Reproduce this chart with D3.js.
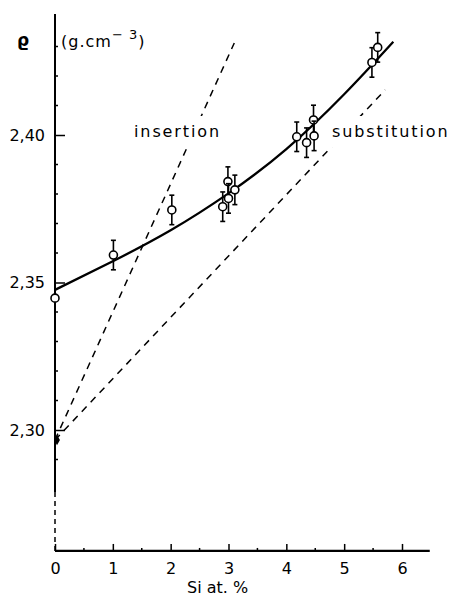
<!DOCTYPE html>
<html>
<head>
<meta charset="utf-8">
<script src="https://cdn.jsdelivr.net/npm/d3@7"></script>
<style>
  body { margin: 0; background: #fff; }
  svg { display: block; }
  text { font-family: "DejaVu Sans", sans-serif; fill: #000; }
</style>
</head>
<body>
<svg id="chart" width="454" height="597"></svg>
<script>
// values
var tickX = [0, 1, 2, 3, 4, 5, 6],
    minorX = [0.5, 1.5, 2.5, 3.5, 4.5, 5.5],
    tickY = [2.30, 2.35, 2.40],
    minorY = [2.29, 2.31, 2.32, 2.33, 2.34, 2.36, 2.37, 2.38, 2.39, 2.41, 2.42, 2.43];

var siPct   = [0, 1.01, 2.02, 2.90, 2.99, 3.00, 3.11, 4.18, 4.35, 4.47, 4.48, 5.48, 5.58],
    density = [2.3447, 2.3593, 2.3746, 2.3757, 2.3842, 2.3785, 2.3814, 2.3994, 2.3974, 2.4051, 2.3997, 2.4246, 2.4297],
    errBar  = [0, 0.005, 0.005, 0.005, 0.005, 0.005, 0.005, 0.005, 0.005, 0.005, 0.005, 0.005, 0.005];

var fitX = [0, 1, 2, 3, 4, 5, 5.85],
    fitY = [2.3475, 2.3572, 2.3677, 2.3802, 2.3952, 2.4138, 2.4316];

var insX = [0, 3.1],
    insY = [2.2966, 2.4312],
    subX = [0, 5.71],
    subY = [2.2966, 2.4153];

var svg = d3.select("#chart");

var x = d3.scaleLinear().domain([0, 6]).range([55, 402]),
    y = d3.scaleLinear().domain([2.30, 2.40]).range([430, 135]);

var line = d3.line()
    .x(function(d) { return x(d[0]); })
    .y(function(d) { return y(d[1]); });

// axes lines
svg.append("line")
    .attr("x1", x(0)).attr("x2", x(6.48))
    .attr("y1", y(2.259)).attr("y2", y(2.259))
    .attr("stroke", "#000").attr("stroke-width", 2.2);

svg.append("line")
    .attr("x1", x(0)).attr("x2", x(0))
    .attr("y1", y(2.279)).attr("y2", y(2.441))
    .attr("stroke", "#000").attr("stroke-width", 2);

svg.append("line")
    .attr("x1", x(0)).attr("x2", x(0))
    .attr("y1", y(2.259)).attr("y2", y(2.279))
    .attr("stroke", "#000").attr("stroke-width", 1.5)
    .attr("stroke-dasharray", "5,4");

// x axis ticks + labels
var gx = svg.append("g")
    .attr("transform", "translate(0," + y(2.259) + ")")
    .call(d3.axisBottom(x).tickValues(tickX).tickSize(-7).tickPadding(12).tickFormat(d3.format("d")));
gx.select(".domain").remove();
gx.selectAll("line").attr("stroke-width", 1.5);
gx.selectAll("text").style("font-size", "16px").style("font-family", "DejaVu Sans");

svg.append("g").selectAll("line")
    .data(minorX)
    .enter().append("line")
      .attr("x1", function(d) { return x(d); })
      .attr("x2", function(d) { return x(d); })
      .attr("y1", y(2.259)).attr("y2", y(2.259) - 3)
      .attr("stroke", "#000").attr("stroke-width", 1.5);

svg.append("text")
    .attr("x", 187).attr("y", 593)
    .style("font-size", "16px")
    .text("Si at. %");

// y axis ticks + labels
var gy = svg.append("g")
    .attr("transform", "translate(" + x(0) + ",0)")
    .call(d3.axisLeft(y).tickValues(tickY).tickSize(-10).tickPadding(10)
      .tickFormat(function(d) { return d3.format(".2f")(d).replace(".", ","); }));
gy.select(".domain").remove();
gy.selectAll("line").attr("stroke-width", 1.5);
gy.selectAll("text").style("font-size", "16px").style("font-family", "DejaVu Sans");

svg.append("g").selectAll("line")
    .data(minorY)
    .enter().append("line")
      .attr("x1", x(0)).attr("x2", x(0) + 3)
      .attr("y1", function(d) { return y(d); })
      .attr("y2", function(d) { return y(d); })
      .attr("stroke", "#000").attr("stroke-width", 1.5);

svg.append("text").attr("x", 17).attr("y", 46).style("font-size", "17px").style("font-weight", "bold").text("\u03F1");
var unit = svg.append("text").attr("x", 61).attr("y", 47).style("font-size", "16px").style("letter-spacing", "1px");
unit.append("tspan").text("(g.cm");
unit.append("tspan").attr("dy", -8).style("font-size", "13px").text("\u2212 3");
unit.append("tspan").attr("dy", 8).text(")");

// dashed model lines
svg.append("path")
    .datum(d3.zip(insX, insY))
    .attr("d", line)
    .attr("fill", "none").attr("stroke", "#000")
    .attr("stroke-width", 1.5).attr("stroke-dasharray", "7,6");

svg.append("path")
    .datum(d3.zip(subX, subY))
    .attr("d", line)
    .attr("fill", "none").attr("stroke", "#000")
    .attr("stroke-width", 1.5).attr("stroke-dasharray", "7,6");

// labels with white backing so the dashes break behind them
var labels = svg.append("g");
[["insertion", 134], ["substitution", 332]].forEach(function(l) {
  var t = labels.append("text")
      .attr("x", l[1]).attr("y", 137)
      .style("font-size", "16px").style("letter-spacing", "1.9px")
      .text(l[0]);
  var b = t.node().getBBox();
  labels.insert("rect", function() { return t.node(); })
      .attr("x", b.x - 2).attr("y", b.y - 6)
      .attr("width", b.width + 4).attr("height", b.height + 12)
      .attr("fill", "#fff");
});

// origin marker
svg.append("path")
    .attr("d", d3.symbol().type(d3.symbolDiamond).size(30))
    .attr("transform", "translate(" + (x(0) + 2) + "," + y(2.2966) + ")")
    .attr("fill", "#000");

// fitted curve
svg.append("path")
    .datum(d3.zip(fitX, fitY))
    .attr("d", line.curve(d3.curveNatural))
    .attr("fill", "none").attr("stroke", "#000").attr("stroke-width", 2.3);

// measured points
var pts = d3.range(siPct.length).map(function(i) {
  return {x: siPct[i], y: density[i], e: errBar[i]};
});

var gp = svg.append("g").selectAll("g")
    .data(pts)
    .enter().append("g");

gp.filter(function(d) { return d.e > 0; }).each(function(d) {
  var g = d3.select(this);
  g.append("line")
      .attr("x1", x(d.x)).attr("x2", x(d.x))
      .attr("y1", y(d.y - d.e)).attr("y2", y(d.y + d.e))
      .attr("stroke", "#000").attr("stroke-width", 1.6);
  [d.y - d.e, d.y + d.e].forEach(function(v) {
    g.append("line")
        .attr("x1", x(d.x) - 2.5).attr("x2", x(d.x) + 2.5)
        .attr("y1", y(v)).attr("y2", y(v))
        .attr("stroke", "#000").attr("stroke-width", 1.6);
  });
});

gp.append("circle")
    .attr("cx", function(d) { return x(d.x); })
    .attr("cy", function(d) { return y(d.y); })
    .attr("r", 4)
    .attr("fill", "#fff")
    .attr("stroke", "#000")
    .attr("stroke-width", 1.6);
</script>
</body>
</html>
